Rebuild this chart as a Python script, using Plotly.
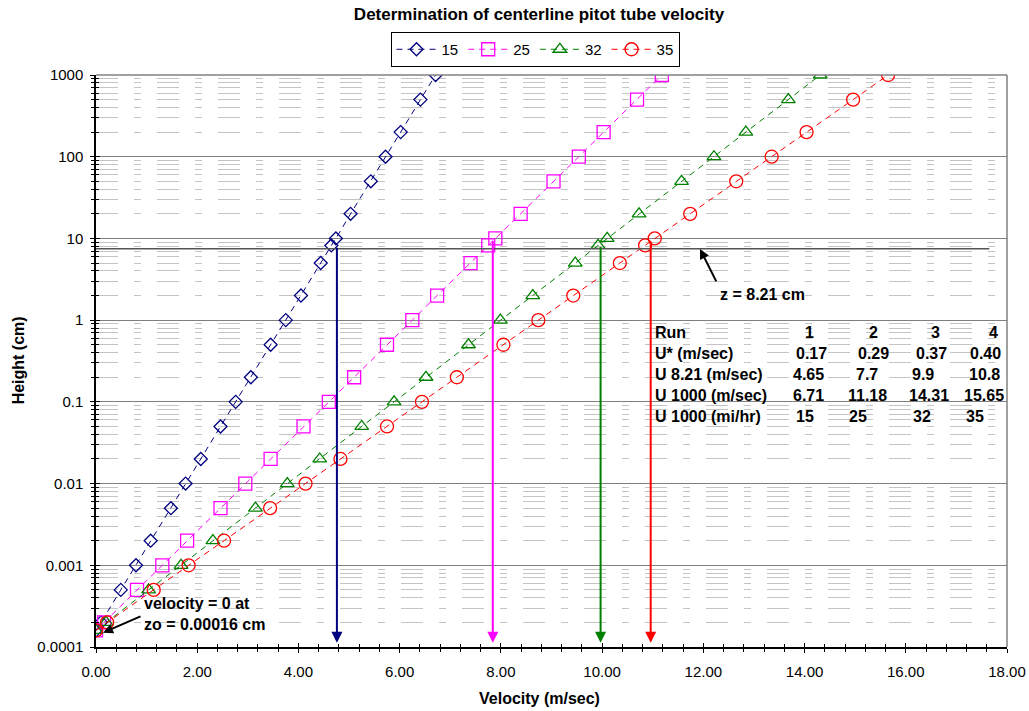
import plotly.graph_objects as go
import math

# ---------------- data ----------------
heights = [0.00016, 0.0002, 0.0005, 0.001, 0.002, 0.005, 0.01, 0.02, 0.05, 0.1, 0.2,
           0.5, 1, 2, 5, 8.21, 10, 20, 50, 100, 200, 500, 1000]
u15 = [0.00, 0.10, 0.49, 0.79, 1.08, 1.48, 1.77, 2.07, 2.46, 2.76, 3.06, 3.45, 3.75,
       4.05, 4.44, 4.65, 4.74, 5.03, 5.43, 5.72, 6.02, 6.41, 6.71]
u25 = [0.00, 0.16, 0.81, 1.31, 1.80, 2.46, 2.95, 3.45, 4.10, 4.60, 5.10, 5.75, 6.25,
       6.74, 7.40, 7.75, 7.89, 8.39, 9.04, 9.54, 10.03, 10.69, 11.18]
u32 = [0.00, 0.20, 1.04, 1.68, 2.31, 3.15, 3.78, 4.42, 5.25, 5.89, 6.52, 7.36, 7.99,
       8.63, 9.47, 9.92, 10.10, 10.73, 11.57, 12.21, 12.84, 13.68, 14.31]
u35 = [0.00, 0.22, 1.14, 1.83, 2.53, 3.44, 4.14, 4.83, 5.75, 6.44, 7.13, 8.05, 8.74,
       9.43, 10.35, 10.85, 11.04, 11.74, 12.65, 13.35, 14.04, 14.96, 15.65]
series_names = ["15", "25", "32", "35"]

arrow_x = [4.76, 7.84, 9.97, 10.96]          # velocity marked by each arrow
arrow_top = [8.0, 9.8, 8.21, 9.5]            # height where each arrow starts
z_line = 7.47                                # z = 8.21 cm reference line

x_tick_vals = [0, 2, 4, 6, 8, 10, 12, 14, 16, 18]
x_tick_text = ["0.00", "2.00", "4.00", "6.00", "8.00", "10.00", "12.00", "14.00", "16.00", "18.00"]
y_tick_vals = [0.0001, 0.001, 0.01, 0.1, 1, 10, 100, 1000]
y_tick_text = ["0.0001", "0.001", "0.01", "0.1", "1", "10", "100", "1000"]

table_labels = ["Run", "U* (m/sec)", "U 8.21 (m/sec)", "U 1000 (m/sec)", "U 1000 (mi/hr)"]
table_cells = [
    ["1", "2", "3", "4"],
    ["0.17", "0.29", "0.37", "0.40"],
    ["4.65", "7.7", "9.9", "10.8"],
    ["6.71", "11.18", "14.31", "15.65"],
    ["15", "25", "32", "35"],
]

# ---------------- styles / positions ----------------
colors = ["#000080", "#FF00FF", "#008000", "#FF0000"]
symbols = ["diamond-open", "square-open", "triangle-up-open", "circle-open"]
msizes = [10, 13, 12, 13]
FONT = "Liberation Sans, Arial, sans-serif"

# pixel geometry of plot area
W, H = 1029, 711
L, R, T, B = 96, 1007, 75, 647.3
px_per_x = (R - L) / 18.0
px_per_dec = (B - T) / 7.0


def xd(px):
    return (px - L) / px_per_x


def yl(py):  # log10 data value from pixel row
    return (B - py) / px_per_dec - 4


def xp(px):
    return (px - L) / (R - L)


def yp(py):
    return (B - py) / (B - T)


fig = go.Figure()
for name, u, c, s, ms in zip(series_names, [u15, u25, u32, u35], colors, symbols, msizes):
    fig.add_trace(go.Scatter(
        x=u, y=heights, name=name, mode="lines+markers",
        line=dict(color=c, width=1, dash="6px,5px"),
        marker=dict(symbol=s, size=ms, color=c, line=dict(color=c, width=1.3)),
    ))

# z = 8.21 reference line
fig.add_trace(go.Scatter(x=[0, 17.65], y=[z_line, z_line], mode="lines",
                         line=dict(color="#555555", width=1.5), showlegend=False,
                         hoverinfo="skip"))

# dummy trace for overlay axes (crossing ticks)
fig.add_trace(go.Scatter(x=[1], y=[1], xaxis="x2", yaxis="y2", mode="markers",
                         marker=dict(opacity=0), showlegend=False, hoverinfo="skip"))

annotations = []
# vertical arrows
for ax_, top, c in zip(arrow_x, arrow_top, colors):
    annotations.append(dict(
        x=ax_, y=-3.947, ax=ax_, ay=math.log10(top), xref="x", yref="y",
        axref="x", ayref="y", text="", showarrow=True, arrowhead=2, arrowsize=1.1,
        arrowwidth=2, arrowcolor=c, standoff=0))

# z = 8.21 cm annotation
annotations.append(dict(x=xd(700), y=yl(249), ax=17, ay=34, xref="x", yref="y",
                        text="", showarrow=True, arrowhead=2, arrowsize=1,
                        arrowwidth=2, arrowcolor="black", standoff=0))
annotations.append(dict(x=xd(762), y=yl(295), xref="x", yref="y", text="<b>z = 8.21 cm</b>",
                        showarrow=False, font=dict(size=16, color="black", family=FONT)))

# zo annotation
annotations.append(dict(x=xd(103), y=yl(633), ax=39, ay=-17, xref="x", yref="y",
                        text="", showarrow=True, arrowhead=2, arrowsize=1,
                        arrowwidth=2, arrowcolor="black", standoff=0))
annotations.append(dict(x=xd(142), y=yl(614.5), xref="x", yref="y", xanchor="left",
                        yanchor="middle",
                        align="left", text="<b>velocity = 0 at<br>zo = 0.00016 cm</b>",
                        showarrow=False, font=dict(size=16, color="black", family=FONT)))

# table
row_py = [333, 354, 375, 395.5, 417]
col_px = [
    [809, 873, 935, 993],
    [811, 873, 931, 985],
    [808, 867, 923, 984],
    [808, 867, 929, 984],
    [805, 858, 922, 975],
]
for lab, cells, py, cpx in zip(table_labels, table_cells, row_py, col_px):
    annotations.append(dict(x=xd(653), y=yl(py), xref="x", yref="y", xanchor="left",
                            yanchor="middle",
                            text="<b>%s</b>" % lab, showarrow=False,
                            font=dict(size=16, color="black", family=FONT)))
    for txt, px in zip(cells, cpx):
        annotations.append(dict(x=xd(px), y=yl(py), xref="x", yref="y",
                                xanchor="center", yanchor="middle",
                                text="<b>%s</b>" % txt, showarrow=False,
                                font=dict(size=16, color="black", family=FONT)))

# axis titles
annotations.append(dict(x=xp(539), y=yp(699), xref="paper", yref="paper",
                        xanchor="center", yanchor="middle",
                        text="<b>Velocity (m/sec)</b>", showarrow=False,
                        font=dict(size=16, color="black", family=FONT)))
annotations.append(dict(x=xp(18.5), y=yp(361), xref="paper", yref="paper",
                        xanchor="center", yanchor="middle",
                        text="<b>Height (cm)</b>", textangle=-90, showarrow=False,
                        font=dict(size=16, color="black", family=FONT)))

minor_y = [m * 10 ** k for k in range(-4, 3) for m in range(2, 10)]

fig.update_layout(
    width=W, height=H,
    margin=dict(l=L, r=W - R, t=T, b=H - B, autoexpand=False),
    paper_bgcolor="white", plot_bgcolor="white",
    font=dict(family=FONT, size=15, color="black"),
    title=dict(text="<b>Determination of centerline pitot tube velocity</b>",
               x=539 / W, xref="container", xanchor="center",
               y=1 - 14 / H, yref="container", yanchor="middle",
               font=dict(size=17, color="black", family=FONT)),
    legend=dict(orientation="h", x=xp(535), xanchor="center",
                y=yp(32), yanchor="top", bordercolor="black", borderwidth=1,
                font=dict(size=15, family=FONT), bgcolor="white",
                tracegroupgap=0, itemwidth=40),
    xaxis=dict(range=[0, 18], tickvals=x_tick_vals, ticktext=x_tick_text,
               showgrid=False, zeroline=False, showline=True, linecolor="black",
               linewidth=1.5, ticks="outside", ticklen=4, tickwidth=1.2, tickcolor="black",
               automargin=False, ticklabelstandoff=6,
               minor=dict(dtick=0.4, ticks="outside", ticklen=3, tickwidth=1, tickcolor="black",
                          showgrid=False),
               tickfont=dict(size=15)),
    yaxis=dict(type="log", range=[-4, 3], tickvals=y_tick_vals, ticktext=y_tick_text,
               showgrid=True, gridcolor="#808080", gridwidth=1.3,
               zeroline=False, showline=True, linecolor="black", linewidth=1.5,
               ticks="outside", ticklen=4, tickwidth=1.2, tickcolor="black",
               automargin=False, ticklabelstandoff=4,
               minor=dict(tickvals=minor_y, ticks="outside", ticklen=3, tickwidth=1,
                          tickcolor="black", showgrid=True, gridcolor="#c4c4c4",
                          gridwidth=1, griddash="22px,16px,7px,16px"),
               tickfont=dict(size=15)),
    xaxis2=dict(overlaying="x", matches="x", anchor="y2", side="bottom",
                tickvals=x_tick_vals, showticklabels=False, showgrid=False,
                zeroline=False, showline=False, ticks="inside", ticklen=4, tickwidth=1.2,
                tickcolor="black", automargin=False,
                minor=dict(dtick=0.4, ticks="inside", ticklen=3, tickwidth=1,
                           tickcolor="black", showgrid=False)),
    yaxis2=dict(overlaying="y", matches="y", type="log", anchor="x2", side="left",
                tickvals=y_tick_vals, showticklabels=False, showgrid=False,
                zeroline=False, showline=False, ticks="inside", ticklen=4, tickwidth=1.2,
                tickcolor="black", automargin=False,
                minor=dict(tickvals=minor_y, ticks="inside", ticklen=3, tickwidth=1,
                           tickcolor="black", showgrid=False)),
    annotations=annotations,
    shapes=[
        dict(type="line", xref="paper", yref="paper", x0=0, x1=1, y0=1, y1=1,
             line=dict(color="#808080", width=1.5)),
        dict(type="line", xref="paper", yref="paper", x0=1, x1=1, y0=0, y1=1,
             line=dict(color="#808080", width=1.5)),
    ],
    showlegend=True,
)

fig.write_html("out.html", config={"displayModeBar": False},
               post_script="document.body.style.margin='0px';")
